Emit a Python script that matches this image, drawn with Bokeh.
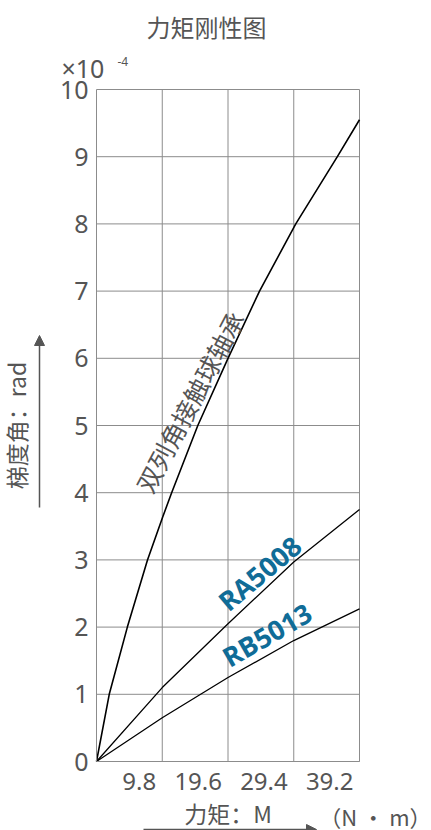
from bokeh.plotting import figure
from bokeh.models import Label, Arrow, NormalHead, FixedTicker, Range1d, LinearAxis
from bokeh.core.properties import value
from bokeh.embed import file_html
from bokeh.resources import INLINE
import numpy as np
import math

# ---------------- data ----------------
x_ticks = [9.8, 19.6, 29.4, 39.2]
x_tick_labels = ["9.8", "19.6", "29.4", "39.2"]
y_ticks = [0, 1, 2, 3, 4, 5, 6, 7, 8, 9, 10]

# 双列角接触球轴承 (double row angular contact ball bearing)
dr_x = [0, 1.9, 4.6, 7.6, 9.8, 11.2, 15.1, 19.6, 24.3, 29.7, 35.9, 39.2]
dr_y = [0, 1.0, 2.0, 3.0, 3.62, 4.0, 5.0, 6.0, 7.0, 8.0, 9.0, 9.55]
# RA5008
ra_x = [0, 9.8, 19.6, 29.4, 39.2]
ra_y = [0, 1.10, 2.05, 2.97, 3.75]
# RB5013
rb_x = [0, 9.8, 19.6, 29.4, 39.2]
rb_y = [0, 0.65, 1.25, 1.80, 2.27]

series_names = ["双列角接触球轴承", "RA5008", "RB5013"]

TITLE = "力矩刚性图"
X_TITLE = "力矩：M"
X_UNIT = "（N · m）"
Y_TITLE = "梯度角：rad"

# ---------------- styles ----------------
GRAY = "#555555"
GRID = "#8c8c8c"
BLUE = "#106c97"
CJK = "Noto Sans CJK SC"
LAT = "Noto Sans"

W, H = 431, 830
# pixel box of the data area inside the canvas
BL, BR, BT, BB = 96, 359, 89, 761

X0, X1 = 0.0, x_ticks[-1]
Y0, Y1 = float(y_ticks[0]), float(y_ticks[-1])
kx = (BR - BL) / (X1 - X0)
ky = (BB - BT) / (Y1 - Y0)
x_range = Range1d(X0 - BL / kx, X1 + (W - BR) / kx)
y_range = Range1d(Y0 - (H - BB) / ky, Y1 + BT / ky)

p = figure(width=W, height=H, x_range=x_range, y_range=y_range,
           output_backend="svg", toolbar_location=None,
           min_border=0, x_axis_location=None, y_axis_location=None)
p.background_fill_color = "white"
p.border_fill_color = "white"
p.outline_line_color = None
p.grid.visible = False

# axes fixed at the data origin
xax = LinearAxis(fixed_location=Y0, bounds=(X0, X1), ticker=FixedTicker(ticks=[]))
yax = LinearAxis(fixed_location=X0, bounds=(Y0, Y1), ticker=FixedTicker(ticks=y_ticks))
for ax in (xax, yax):
    ax.major_tick_out = 0
    ax.major_tick_in = 0
    ax.minor_tick_out = 0
    ax.minor_tick_in = 0
    ax.axis_line_color = GRID
    ax.major_label_text_color = GRAY
    ax.major_label_text_font = LAT
    ax.major_label_text_font_size = "25px"
    ax.axis_label_text_color = GRAY
    ax.axis_label_text_font = CJK
    ax.axis_label_text_font_size = "23px"
    ax.axis_label_text_font_style = "normal"
xax.major_label_standoff = 0
xax.axis_label = X_TITLE
xax.axis_label_standoff = 34
yax.major_label_standoff = 8
yax.axis_label = Y_TITLE
yax.axis_label_standoff = 24
p.add_layout(xax, "below")
p.add_layout(yax, "left")

# grid lines (from the tick arrays)
p.segment(x0=x_ticks, y0=[Y0] * len(x_ticks), x1=x_ticks, y1=[Y1] * len(x_ticks),
          line_color=GRID, line_width=1)
p.segment(x0=[X0] * len(y_ticks), y0=y_ticks, x1=[X1] * len(y_ticks), y1=y_ticks,
          line_color=GRID, line_width=1)

# x tick labels (sit just left of their grid lines, as in the reference)
p.text(x=x_ticks, y=[Y0] * len(x_ticks), text=x_tick_labels, text_align="right",
       text_baseline="top", x_offset=-6, y_offset=11,
       text_font=value(LAT), text_font_size="24px", text_color=GRAY)

# curves
p.line(dr_x, dr_y, line_color="black", line_width=1.6)
p.line(ra_x, ra_y, line_color="black", line_width=1.3)
p.line(rb_x, rb_y, line_color="black", line_width=1.3)

# curve labels (anchored on their curves, shifted up in pixels)
ax0 = 14.0
p.text(x=[ax0], y=[float(np.interp(ax0, dr_x, dr_y))], text=[series_names[0]],
       angle=math.radians(62), text_align="center", text_baseline="middle",
       x_offset=-1, y_offset=-43, text_font=value(CJK), text_font_size="25px", text_color=GRAY)
ax1 = 24.3
p.text(x=[ax1], y=[float(np.interp(ax1, ra_x, ra_y))], text=[series_names[1]],
       angle=math.radians(40), text_align="center", text_baseline="middle",
       y_offset=-21, text_font=value("Open Sans"), text_font_style="bold",
       text_font_size="27px", text_color=BLUE)
ax2 = 25.4
p.text(x=[ax2], y=[float(np.interp(ax2, rb_x, rb_y))], text=[series_names[2]],
       angle=math.radians(30), text_align="center", text_baseline="middle",
       y_offset=-21, text_font=value("Open Sans"), text_font_style="bold",
       text_font_size="27px", text_color=BLUE)

# screen units: origin at bottom-left of the frame (= whole canvas here)
def sx(X):
    return X

def sy(Y):
    return H - Y

p.add_layout(Label(x=sx(206), y=sy(26), x_units="screen", y_units="screen", text=TITLE,
                   text_align="center", text_baseline="middle", text_font=CJK,
                   text_font_size="24px", text_color=GRAY))
p.add_layout(Label(x=sx(61), y=sy(67), x_units="screen", y_units="screen", text="×10",
                   text_align="left", text_baseline="middle", text_font=LAT,
                   text_font_size="25px", text_color=GRAY))
p.add_layout(Label(x=sx(117), y=sy(61), x_units="screen", y_units="screen", text="-4",
                   text_align="left", text_baseline="middle", text_font=LAT,
                   text_font_size="12px", text_color=GRAY))
p.add_layout(Label(x=sx(431), y=sy(815), x_units="screen", y_units="screen", text=X_UNIT,
                   text_align="right", text_baseline="middle", text_font=CJK,
                   text_font_size="22px", text_color=GRAY))

# axis-direction arrows
p.add_layout(Arrow(x_start=sx(39), y_start=sy(507), x_end=sx(39), y_end=sy(335),
                   start_units="screen", end_units="screen",
                   line_color=GRAY, line_width=1.5,
                   end=NormalHead(size=10, line_color=GRAY, fill_color=GRAY)))
p.add_layout(Arrow(x_start=sx(143), y_start=sy(829), x_end=sx(316), y_end=sy(829),
                   start_units="screen", end_units="screen",
                   line_color=GRAY, line_width=1.5,
                   end=NormalHead(size=10, line_color=GRAY, fill_color=GRAY)))

open("out.html", "w").write(file_html(p, INLINE))
